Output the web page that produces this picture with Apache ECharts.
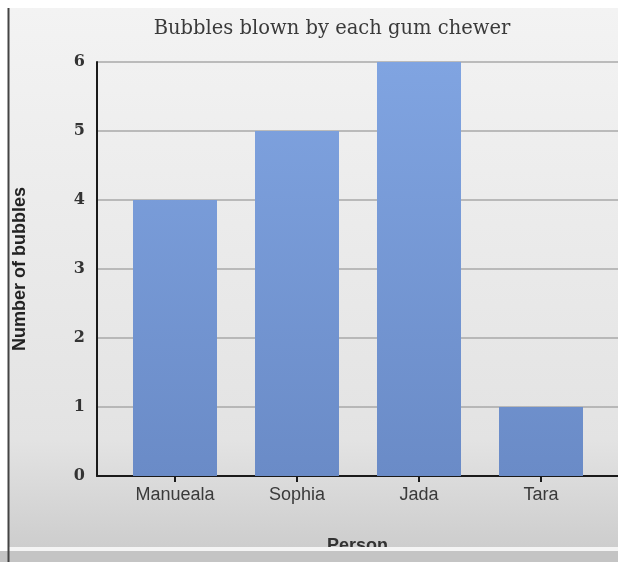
<!DOCTYPE html>
<html>
<head>
<meta charset="utf-8">
<script src="https://cdn.jsdelivr.net/npm/echarts@6/dist/echarts.min.js"></script>
<style>
html,body{margin:0;padding:0;background:#ffffff;}
#chart{width:618px;height:562px;}
</style>
</head>
<body>
<div id="chart"></div>
<script>
const titleText = "Bubbles blown by each gum chewer";
const categories = ["Manueala", "Sophia", "Jada", "Tara"];
const bubbles = [4, 5, 6, 1];
const yTicks = [0, 1, 2, 3, 4, 5, 6];
const xName = "Person";
const yName = "Number of bubbles";

const chart = echarts.init(document.getElementById('chart'), null, {renderer: 'canvas'});
const yMin = yTicks[0], yMax = yTicks[yTicks.length - 1];

const option = {
  animation: false,
  title: {
    text: titleText,
    left: 327, top: 14, textAlign: 'center',
    textStyle: {fontFamily: 'DejaVu Serif', fontWeight: 'normal', fontSize: 19.5, color: '#3a3a3a'}
  },
  graphic: [
    {type: 'rect', z: -10, shape: {x: 9, y: 8, width: 609, height: 540},
     style: {fill: new echarts.graphic.LinearGradient(0, 0, 0, 1, [
       {offset: 0, color: '#f3f3f3'}, {offset: 0.8, color: '#e3e3e3'}, {offset: 1, color: '#cdcdcd'}])}},
    {type: 'rect', z: -10, shape: {x: 0, y: 551, width: 618, height: 11}, style: {fill: '#c4c4c4'}},
    {type: 'rect', z: 100, shape: {x: 8, y: 547, width: 610, height: 4}, style: {fill: '#f4f4f4'}},
    {type: 'line', z: 100, shape: {x1: 8.5, y1: 8, x2: 8.5, y2: 562}, style: {stroke: '#444', lineWidth: 2}}
  ],
  grid: [
    {left: 97, right: 0, top: 62, bottom: 86},
    {left: 114, right: 16, top: 62, bottom: 86}
  ],
  xAxis: [
    {gridIndex: 0, type: 'value', min: 0, max: 1, name: xName, nameLocation: 'middle', nameGap: 61,
     nameTextStyle: {fontFamily: 'Liberation Sans', fontWeight: 'bold', fontSize: 18, color: '#333'},
     axisLine: {show: true, lineStyle: {color: '#1a1a1a', width: 2}},
     axisTick: {show: false}, axisLabel: {show: false}, splitLine: {show: false}},
    {gridIndex: 1, type: 'category', data: categories,
     axisLine: {show: false},
     axisTick: {show: true, alignWithLabel: true, length: 6, lineStyle: {color: '#1a1a1a', width: 2}},
     axisLabel: {fontFamily: 'Liberation Sans', fontSize: 18, color: '#3a3a3a', margin: 10},
     splitLine: {show: false}}
  ],
  yAxis: [
    {gridIndex: 0, type: 'value', min: yMin, max: yMax, interval: 1,
     name: yName, nameLocation: 'middle', nameGap: 68,
     nameTextStyle: {fontFamily: 'Liberation Sans', fontWeight: 'bold', fontSize: 18, color: '#222'},
     axisLine: {show: true, lineStyle: {color: '#1a1a1a', width: 2}},
     axisTick: {show: false},
     axisLabel: {fontFamily: 'DejaVu Serif', fontWeight: 'bold', fontSize: 16, color: '#333', margin: 12},
     splitLine: {show: true, lineStyle: {color: '#a9a9a9', width: 1.5}}},
    {gridIndex: 1, type: 'value', min: yMin, max: yMax, interval: 1, show: false,
     splitLine: {show: false}}
  ],
  series: [{
    type: 'bar', xAxisIndex: 1, yAxisIndex: 1, data: bubbles, barWidth: 84,
    itemStyle: {color: new echarts.graphic.LinearGradient(0, 62, 0, 476, [
      {offset: 0, color: '#80a4e1'}, {offset: 1, color: '#6a8bc7'}], true)}
  }]
};
chart.setOption(option);
</script>
</body>
</html>
